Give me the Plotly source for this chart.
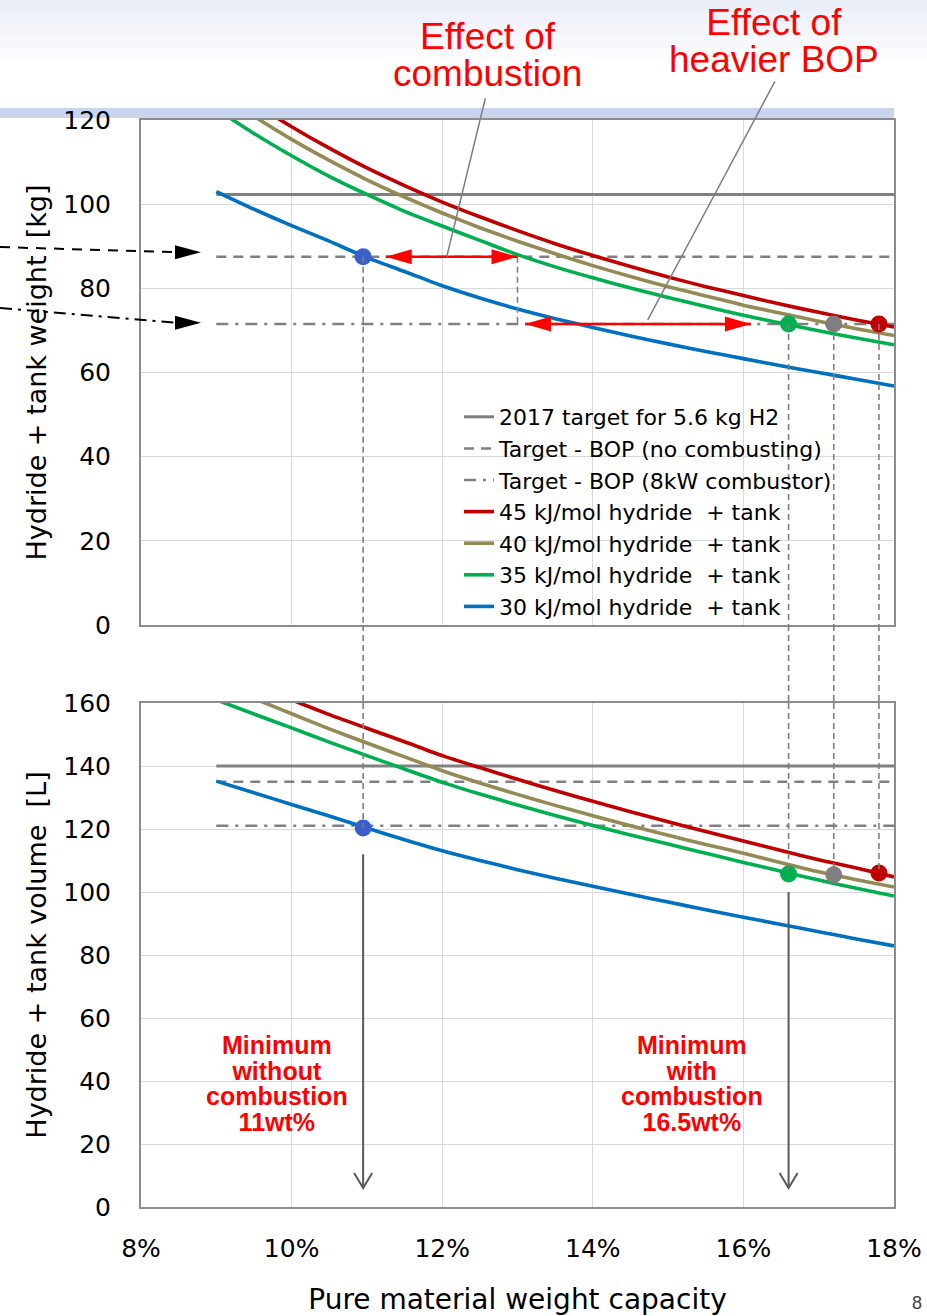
import plotly.graph_objects as go

# ---------------- data ----------------
wt_pct = [9.0, 9.5, 10.0, 10.5, 11.0, 11.5, 12.0, 12.5, 13.0, 13.5,
          14.0, 14.5, 15.0, 15.5, 16.0, 16.5, 17.0, 17.5, 18.0]

# hydride + tank weight [kg]
kg_45 = [130.0, 124.0, 118.4, 113.3, 108.6, 104.4, 100.5, 97.0, 93.7, 90.6,
         87.8, 85.2, 82.7, 80.4, 78.3, 76.2, 74.3, 72.5, 70.8]
kg_40 = [127.0, 120.9, 115.4, 110.4, 105.8, 101.7, 97.9, 94.4, 91.2, 88.2,
         85.4, 82.8, 80.4, 78.2, 76.0, 74.1, 72.2, 70.4, 68.8]
kg_35 = [122.6, 116.8, 111.5, 106.6, 102.3, 98.3, 94.8, 91.4, 88.0, 85.1,
         82.5, 80.1, 77.8, 75.7, 73.6, 71.7, 69.9, 68.2, 66.6]
kg_30 = [103.0, 98.8, 94.9, 91.2, 87.3, 84.0, 80.6, 77.7, 75.1, 72.8,
         70.7, 68.7, 66.8, 65.0, 63.3, 61.6, 60.0, 58.4, 56.8]

# hydride + tank volume [L]
L_45 = [170.0, 165.5, 161.0, 156.3, 152.0, 147.7, 143.3, 139.5, 135.8, 132.2,
        128.8, 125.5, 122.3, 119.2, 116.2, 113.2, 110.2, 107.6, 104.8]
L_40 = [166.0, 161.4, 156.6, 151.8, 147.3, 142.9, 138.5, 134.6, 131.0, 127.5,
        124.2, 121.0, 118.0, 115.1, 112.3, 109.3, 106.4, 103.9, 101.6]
L_35 = [161.0, 156.5, 152.1, 147.6, 143.3, 139.0, 134.8, 131.1, 127.6, 124.3,
        121.1, 118.1, 115.2, 112.3, 109.4, 106.6, 103.8, 101.2, 98.7]
L_30 = [135.2, 131.5, 127.8, 124.1, 120.3, 116.6, 113.1, 110.0, 107.1, 104.4,
        101.8, 99.3, 96.8, 94.4, 92.0, 89.7, 87.4, 85.1, 82.9]

# horizontal targets
target_x = [9.0, 18.0]
target_kg = 102.3
bop_nocomb_kg = 87.5
bop_comb_kg = 71.5
target_L = 140.0
bop_nocomb_L = 135.0
bop_comb_L = 121.0

# highlighted intersection points
pt_x = [10.95, 16.6, 17.2, 17.8]
pt_kg = [87.5, 71.5, 71.5, 71.5]
pt_L = [120.3, 105.7, 105.5, 106.0]
pt_colors = ["#3A5FCB", "#00B050", "#7F7F7F", "#C00000"]

# red "effect" arrows (x extents)
comb_arrow_x = [11.25, 13.0]
bop_arrow_x = [13.1, 16.1]
comb_pointer_x = 12.06
bop_pointer_x = 14.73

# vertical "minimum" arrows in the volume panel
min_arrow_x = [10.95, 16.6]
min_arrow_from = [112.0, 100.0]
min_arrow_to = 6.0

x_tickvals = [8, 10, 12, 14, 16, 18]
x_ticktext = ["8%", "10%", "12%", "14%", "16%", "18%"]

series_names = ["45 kJ/mol hydride  + tank", "40 kJ/mol hydride  + tank",
                "35 kJ/mol hydride  + tank", "30 kJ/mol hydride  + tank"]
series_colors = ["#C00000", "#948A54", "#00B050", "#0070C0"]

# ---------------- layout helpers ----------------
W, H = 927, 1316
ML, MR, MT, MB = 141, 33, 120, 109
PW, PH = W - ML - MR, H - MT - MB


def px2paper_x(px):
    return (px - ML) / PW


def px2paper_y(py):
    return (H - MB - py) / PH


top_dom = [px2paper_y(625), 1.0]
bot_dom = [0.0, px2paper_y(703)]

FONT = "DejaVu Sans"
ARIAL = "Liberation Sans"
GRAY = "#7F7F7F"
RED = "#FF0000"

fig = go.Figure()

# target lines (top + bottom)
t_styles = [("2017 target for 5.6 kg H2", "solid", 3.0, target_kg, target_L),
            ("Target - BOP (no combusting)", "10px,7px", 2.5, bop_nocomb_kg, bop_nocomb_L),
            ("Target - BOP (8kW combustor)", "12px,7px,3px,7px", 2.5, bop_comb_kg, bop_comb_L)]
for name, dash, w, vk, vl in t_styles:
    fig.add_trace(go.Scatter(x=target_x, y=[vk, vk], mode="lines", name=name,
                             line=dict(color="#808080", width=w, dash=dash),
                             xaxis="x", yaxis="y", hoverinfo="skip"))
for name, dash, w, vk, vl in t_styles:
    fig.add_trace(go.Scatter(x=target_x, y=[vl, vl], mode="lines", name=name,
                             line=dict(color="#808080", width=w, dash=dash),
                             xaxis="x2", yaxis="y2", showlegend=False, hoverinfo="skip"))

for name, col, yk in zip(series_names, series_colors, [kg_45, kg_40, kg_35, kg_30]):
    fig.add_trace(go.Scatter(x=wt_pct, y=yk, mode="lines", name=name,
                             line=dict(color=col, width=3.6, shape="spline", smoothing=0.6),
                             xaxis="x", yaxis="y"))
for name, col, yl in zip(series_names, series_colors, [L_45, L_40, L_35, L_30]):
    fig.add_trace(go.Scatter(x=wt_pct, y=yl, mode="lines", name=name,
                             line=dict(color=col, width=3.6, shape="spline", smoothing=0.6),
                             xaxis="x2", yaxis="y2", showlegend=False))

fig.add_trace(go.Scatter(x=pt_x, y=pt_kg, mode="markers", showlegend=False,
                         marker=dict(size=17, color=pt_colors), xaxis="x", yaxis="y"))
fig.add_trace(go.Scatter(x=pt_x, y=pt_L, mode="markers", showlegend=False,
                         marker=dict(size=17, color=pt_colors), xaxis="x2", yaxis="y2"))

shapes = []
annotations = []

# slide decoration: faint gradient at top and a blue band
grad_cols = ["#EBEFF8", "#EFF2FA", "#F3F5FB", "#F7F8FD", "#FBFCFE"]
for i, c in enumerate(grad_cols):
    shapes.append(dict(type="rect", xref="paper", yref="paper", layer="below",
                       x0=px2paper_x(0), x1=px2paper_x(W),
                       y0=px2paper_y(12 * (i + 1)), y1=px2paper_y(12 * i),
                       fillcolor=c, line=dict(width=0)))
shapes.append(dict(type="rect", xref="paper", yref="paper", layer="below",
                   x0=px2paper_x(0), x1=1.0, y0=px2paper_y(118), y1=px2paper_y(108),
                   fillcolor="#C9D5EF", line=dict(width=0)))

# vertical dashed connectors between the two panels
conn = dict(color=GRAY, width=1.6, dash="6px,4px")
for xv, yk, yl in zip(pt_x, pt_kg, pt_L):
    shapes.append(dict(type="line", xref="x", yref="y", x0=xv, x1=xv, y0=yk, y1=0, line=conn))
    shapes.append(dict(type="line", xref="x", yref="paper", x0=xv, x1=xv,
                       y0=top_dom[0], y1=bot_dom[1], line=conn))
    shapes.append(dict(type="line", xref="x2", yref="y2", x0=xv, x1=xv, y0=160, y1=yl, line=conn))
# bracket for the combustion effect
shapes.append(dict(type="line", xref="x", yref="y", x0=comb_arrow_x[1], x1=comb_arrow_x[1],
                   y0=bop_nocomb_kg, y1=bop_comb_kg, line=conn))

# red double arrows
for xs, yv in [(comb_arrow_x, bop_nocomb_kg), (bop_arrow_x, bop_comb_kg)]:
    shapes.append(dict(type="line", xref="x", yref="y", x0=xs[0], x1=xs[1], y0=yv, y1=yv,
                       line=dict(color=RED, width=2.5)))
    shapes.append(dict(type="path", xref="x", yref="y", xsizemode="pixel", ysizemode="pixel",
                       xanchor=xs[0], yanchor=yv, path="M0,0 L26,7.5 L26,-7.5 Z",
                       fillcolor=RED, line=dict(width=0)))
    shapes.append(dict(type="path", xref="x", yref="y", xsizemode="pixel", ysizemode="pixel",
                       xanchor=xs[1], yanchor=yv, path="M0,0 L-26,7.5 L-26,-7.5 Z",
                       fillcolor=RED, line=dict(width=0)))

# black arrows coming in from the left
for yv, dash, dy_tail, dy_tip in [(bop_nocomb_kg, "10px,8px", 2.3, 1.1),
                                  (bop_comb_kg, "12px,6px,3px,6px", 3.8, 0.3)]:
    shapes.append(dict(type="line", xref="paper", yref="y",
                       x0=px2paper_x(0), x1=px2paper_x(178),
                       y0=yv + dy_tail, y1=yv + dy_tip,
                       line=dict(color="black", width=2, dash=dash)))
    shapes.append(dict(type="path", xref="paper", yref="y", xsizemode="pixel", ysizemode="pixel",
                       xanchor=px2paper_x(201), yanchor=yv + dy_tip,
                       path="M0,0 L-26,7 L-26,-7 Z", fillcolor="black", line=dict(width=0)))

# vertical "minimum" arrows
for xv, y0 in zip(min_arrow_x, min_arrow_from):
    shapes.append(dict(type="line", xref="x2", yref="y2", x0=xv, x1=xv, y0=y0, y1=min_arrow_to,
                       line=dict(color="#595959", width=2)))
    shapes.append(dict(type="path", xref="x2", yref="y2", xsizemode="pixel", ysizemode="pixel",
                       xanchor=xv, yanchor=min_arrow_to, path="M-9,15 L0,0 L9,15",
                       fillcolor="rgba(0,0,0,0)", line=dict(color="#595959", width=2)))

# pointer lines for the red captions
annotations.append(dict(xref="x", yref="y", x=comb_pointer_x, y=bop_nocomb_kg, text="",
                        showarrow=True, arrowhead=0, arrowwidth=1.5, arrowcolor=GRAY,
                        ax=39, ay=-160))
annotations.append(dict(xref="x", yref="y", x=bop_pointer_x, y=bop_comb_kg + 1.0, text="",
                        showarrow=True, arrowhead=0, arrowwidth=1.5, arrowcolor=GRAY,
                        ax=128, ay=-240))


def tight_lines(lines, big, bold=False):
    parts = []
    for ln in lines:
        t = '<span style="font-size:%gpx">%s</span>' % (big, ln)
        parts.append("<b>" + t + "</b>" if bold else t)
    return "<br>".join(parts)


# red captions (two-line, tight leading as in the reference)
for lines, px, py in [(["Effect of", "combustion"], 487, 55),
                      (["Effect of", "heavier BOP"], 774, 41)]:
    annotations.append(dict(xref="paper", yref="paper", x=px2paper_x(px), y=px2paper_y(py),
                            text=tight_lines(lines, 37), showarrow=False,
                            xanchor="center", yanchor="middle",
                            font=dict(family=ARIAL, size=28.5, color=RED)))

for x_c, lines in [(9.81, ["Minimum", "without", "combustion", "11wt%"]),
                   (15.32, ["Minimum", "with", "combustion", "16.5wt%"])]:
    annotations.append(dict(xref="x2", yref="y2", x=x_c, y=39.3,
                            text=tight_lines(lines, 25, bold=True),
                            showarrow=False, xanchor="center", yanchor="middle",
                            font=dict(family=ARIAL, size=19.7, color=RED)))

# page number in the corner
annotations.append(dict(xref="paper", yref="paper", x=px2paper_x(917), y=px2paper_y(1303),
                        text="8", showarrow=False, xanchor="center", yanchor="middle",
                        font=dict(family=ARIAL, size=18, color="#404040")))

axis_common = dict(showgrid=True, gridcolor="#D9D9D9", gridwidth=1.3, showline=True,
                   mirror=True, linecolor="#8C8C8C", linewidth=2, zeroline=False, ticks="",
                   automargin=False,
                   tickfont=dict(family=FONT, size=25, color="black"))

fig.update_layout(
    width=W, height=H, margin=dict(l=ML, r=MR, t=MT, b=MB, autoexpand=False),
    paper_bgcolor="white", plot_bgcolor="white",
    showlegend=True,
    legend=dict(x=px2paper_x(459), y=px2paper_y(396), xanchor="left", yanchor="top",
                bgcolor="rgba(0,0,0,0)", borderwidth=0, traceorder="normal",
                font=dict(family=FONT, size=22, color="black")),
    xaxis=dict(domain=[0, 1], range=[8, 18], anchor="y", tickvals=x_tickvals,
               showticklabels=False, **axis_common),
    yaxis=dict(domain=top_dom, range=[0, 120], anchor="x", dtick=20, ticklabelstandoff=23,
               title=dict(text="Hydride + tank weight&#160; [kg]", standoff=9,
                          font=dict(family=FONT, size=27, color="black")),
               **axis_common),
    xaxis2=dict(domain=[0, 1], range=[8, 18], anchor="y2", tickvals=x_tickvals,
                ticktext=x_ticktext, ticklabelstandoff=18,
                title=dict(text="Pure material weight capacity", standoff=32,
                           font=dict(family=FONT, size=28, color="black")),
                **axis_common),
    yaxis2=dict(domain=bot_dom, range=[0, 160], anchor="x2", dtick=20, ticklabelstandoff=23,
                title=dict(text="Hydride + tank volume&#160; [L]", standoff=9,
                           font=dict(family=FONT, size=27, color="black")),
                **axis_common),
    shapes=shapes, annotations=annotations,
)

fig.write_html("out.html")
